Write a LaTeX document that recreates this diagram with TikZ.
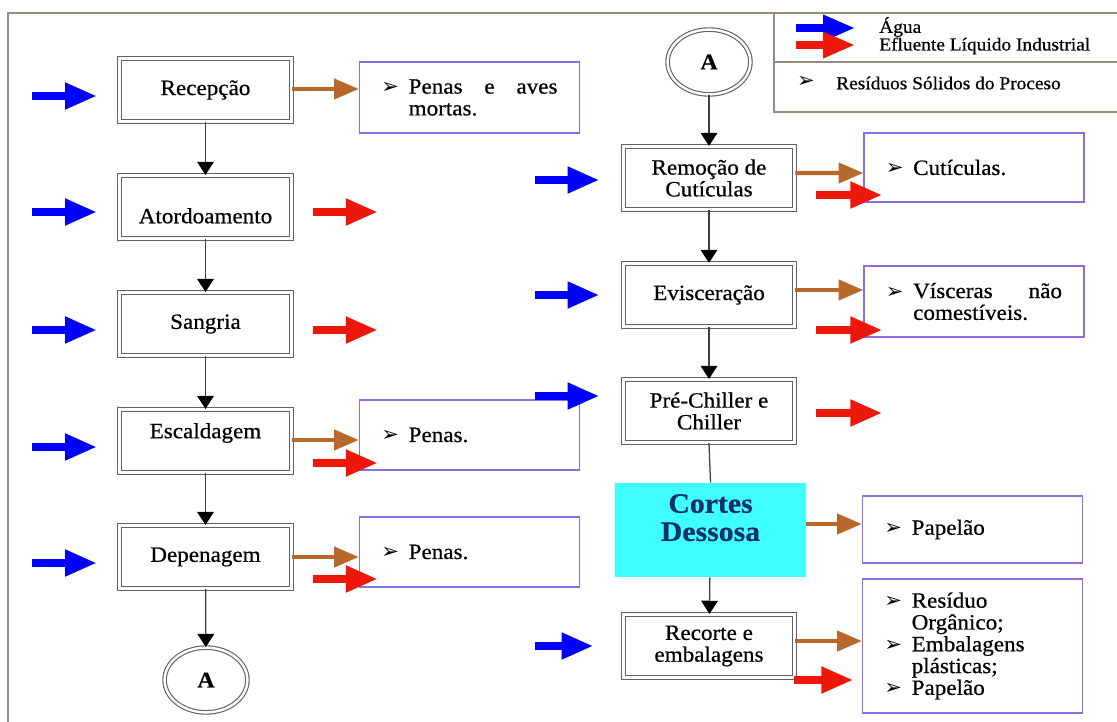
\documentclass[tikz,border=0pt]{standalone}
\usepackage{fontspec}
\setmainfont{Liberation Serif}[FakeStretch=1.06,FakeBold=0.6]
\newfontfamily\simbolos{DejaVu Sans}
\usetikzlibrary{arrows.meta,shapes.geometric,calc}

\definecolor{azulagua}{RGB}{0,0,255}
\definecolor{vermelho}{RGB}{238,24,10}
\definecolor{marrom}{RGB}{184,104,40}
\definecolor{linhacaixa}{RGB}{100,95,112}
\definecolor{lilas}{RGB}{140,110,225}
\definecolor{moldura}{RGB}{150,140,128}
\definecolor{ciano}{RGB}{64,255,255}
\definecolor{marinho}{RGB}{15,50,100}
\definecolor{elo}{RGB}{70,60,50}

\newcommand{\rotulo}{\fontsize{15.5}{15.5}\selectfont}
\newcommand{\legenda}{\fontsize{13}{13}\selectfont}
\newcommand{\marcador}{{\simbolos\fontsize{15}{15}\selectfont ➢}}
\newcommand{\residuo}[1]{\par\hangindent=0.68cm\hangafter=1\hyphenpenalty=10000\tolerance=10000\hbadness=10000\noindent\makebox[0.68cm][l]{\marcador}#1\par}

\tikzset{
    etapa/.style={draw=linhacaixa, double, double distance=0.07cm, line width=0.9pt,
        minimum width=4.29cm, minimum height=1.57cm, inner sep=1pt, align=center, font=\rotulo},
    saida/.style={draw=lilas, line width=0.9pt, inner sep=0pt, font=\rotulo},
    conexao/.style={ellipse, draw=linhacaixa, double, double distance=0.06cm, line width=0.8pt,
        minimum width=2.07cm, minimum height=1.62cm, inner sep=0pt, font=\fontsize{16}{16}\selectfont\bfseries},
    fluxo/.style={draw=elo, line width=0.9pt, -{Triangle[length=0.33cm,width=0.42cm,color=black,fill=black]}},
    agua/.style={draw=azulagua, line width=0.22cm, -{Triangle[length=0.8cm,width=0.62cm]}},
    efluente/.style={draw=vermelho, line width=0.22cm, -{Triangle[length=0.8cm,width=0.62cm]}},
    solido/.style={draw=marrom, line width=0.11cm, -{Triangle[length=0.62cm,width=0.5cm]}}
}

\begin{document}
\begin{tikzpicture}[x=0.025cm,y=-0.025cm]
\useasboundingbox (0,0) rectangle (1117,722);

% moldura e legenda
\draw[moldura, line width=1.4pt] (8,722) -- (8,13) -- (1117,13);
\draw[moldura, line width=1.2pt] (774,13) -- (774,112) -- (1117,112);
\draw[moldura, line width=1.2pt] (774,62) -- (1117,62);
\coordinate (leg-a1) at (796,28);
\coordinate (leg-a2) at (855,28);
\coordinate (leg-e1) at (796,45);
\coordinate (leg-e2) at (855,45);
\draw[agua, line width=0.18cm] (leg-a1) -- (leg-a2);
\draw[efluente, line width=0.18cm] (leg-e1) -- (leg-e2);
\node[anchor=west, font=\legenda, inner sep=0pt] (leg-agua) at (879,27) {Água};
\node[anchor=west, font=\legenda, inner sep=0pt] (leg-efluente) at (879,46) {Efluente Líquido Industrial};
\node[inner sep=0pt] (leg-marca) at (806,82) {\marcador};
\node[anchor=west, font=\legenda, inner sep=0pt] (leg-solido) at (836,83) {Resíduos Sólidos do Proceso};

% etapas - coluna esquerda
\node[etapa] (recepcao) at (205.5,90) {Recepção};
\node[etapa] (atordoamento) at (205.5,207) {\raisebox{-0.22cm}[\height][\depth]{Atordoamento}};
\node[etapa] (sangria) at (205.5,324) {Sangria};
\node[etapa] (escaldagem) at (205.5,441) {\raisebox{0.2cm}[\height][\depth]{Escaldagem}};
\node[etapa] (depenagem) at (205.5,557) {Depenagem};
\node[conexao] (a-fim) at (206,680) {A};

% etapas - coluna direita
\node[conexao] (a-inicio) at (709,62) {A};
\node[etapa] (remocao) at (709,178) {Remoção de\\Cutículas};
\node[etapa] (evisceracao) at (709,295) {Evisceração};
\node[etapa] (prechiller) at (709,411) {Pré-Chiller e\\Chiller};
\node[fill=ciano, minimum width=4.75cm, minimum height=2.35cm, inner sep=0pt,
    font=\fontsize{20}{20}\selectfont\bfseries, text=marinho] (cortes) at (710.5,530)
    {\raisebox{0.22cm}[\height][\depth]{\begin{tabular}{@{}c@{}}Cortes\\Dessosa\end{tabular}}};
\node[etapa] (recorte) at (709,646) {Recorte e\\embalagens};

% residuos solidos
\node[saida, minimum width=5.5cm, minimum height=1.77cm] (pena1) at (469.5,97.5)
    {\parbox{4.4cm}{\residuo{Penas e aves mortas.}}};
\node[saida, minimum width=5.5cm, minimum height=1.75cm] (pena2) at (469.5,435)
    {\parbox{4.4cm}{\residuo{Penas.}}};
\node[saida, minimum width=5.5cm, minimum height=1.75cm] (pena3) at (469.5,552)
    {\parbox{4.4cm}{\residuo{Penas.}}};
\node[saida, minimum width=5.5cm, minimum height=1.72cm] (cuticulas) at (974,167.5)
    {\parbox{4.4cm}{\residuo{Cutículas.}}};
\node[saida, minimum width=5.5cm, minimum height=1.77cm] (visceras) at (974,301.5)
    {\parbox{4.4cm}{\residuo{Vísceras não comestíveis.}}};
\node[saida, minimum width=5.5cm, minimum height=1.67cm] (papelao) at (972.5,529.5)
    {\parbox{4.4cm}{\residuo{Papelão}}};
\node[saida, minimum width=5.5cm, minimum height=3.35cm] (embalagens) at (972.5,646)
    {\parbox{4.4cm}{\residuo{Resíduo Orgânico;}\residuo{Embalagens plásticas;}\residuo{Papelão}}};

% fluxo principal
\draw[fluxo] (recepcao) -- (atordoamento);
\draw[fluxo] (atordoamento) -- (sangria);
\draw[fluxo] (sangria) -- (escaldagem);
\draw[fluxo] (escaldagem) -- (depenagem);
\draw[fluxo] (depenagem) -- (a-fim);
\draw[fluxo] (a-inicio) -- (remocao);
\draw[fluxo] (remocao) -- (evisceracao);
\draw[fluxo] (evisceracao) -- (prechiller);
\draw[draw=elo, line width=0.9pt] (prechiller.south) -- (cortes.north);
\draw[fluxo] (cortes) -- (recorte);

% residuos solidos
\draw[solido] ($(recepcao.east)+(0,-1)$) -- ($(pena1.west)+(0,-8.5)$);
\draw[solido] ($(escaldagem.east)+(0,-1)$) -- ($(pena2.west)+(0,5)$);
\draw[solido] (depenagem.east) -- ($(pena3.west)+(0,5)$);
\draw[solido] ($(remocao.east)+(0,-5)$) -- ($(cuticulas.west)+(0,5.5)$);
\draw[solido] ($(evisceracao.east)+(0,-5)$) -- ($(visceras.west)+(0,-11.5)$);
\draw[solido] ($(cortes.east)+(0,-6)$) -- ($(papelao.west)+(0,-5.5)$);
\draw[solido] ($(recorte.east)+(0,-5)$) -- ($(embalagens.west)+(0,-5)$);

% entrada de agua
\draw[agua] ($(recepcao.west)+(-87,6)$) -- ($(recepcao.west)+(-22,6)$);
\draw[agua] ($(atordoamento.west)+(-87,5)$) -- ($(atordoamento.west)+(-22,5)$);
\draw[agua] ($(sangria.west)+(-87,6)$) -- ($(sangria.west)+(-22,6)$);
\draw[agua] ($(escaldagem.west)+(-87,6)$) -- ($(escaldagem.west)+(-22,6)$);
\draw[agua] ($(depenagem.west)+(-87,6)$) -- ($(depenagem.west)+(-22,6)$);
\draw[agua] ($(remocao.west)+(-88,2)$) -- ($(remocao.west)+(-23,2)$);
\draw[agua] ($(evisceracao.west)+(-88,0)$) -- ($(evisceracao.west)+(-23,0)$);
\draw[agua] ($(prechiller.west)+(-88,-15)$) -- ($(prechiller.west)+(-23,-15)$);
\draw[agua] ($(recorte.west)+(-88,0)$) -- ($(recorte.west)+(-29,0)$);

% efluente liquido
\draw[efluente] ($(atordoamento.east)+(21,5)$) -- ($(atordoamento.east)+(86,5)$);
\draw[efluente] ($(sangria.east)+(21,6)$) -- ($(sangria.east)+(86,6)$);
\draw[efluente] ($(escaldagem.east)+(21,22)$) -- ($(escaldagem.east)+(86,22)$);
\draw[efluente] ($(depenagem.east)+(21,22)$) -- ($(depenagem.east)+(86,22)$);
\draw[efluente] ($(remocao.east)+(21,17)$) -- ($(remocao.east)+(87,17)$);
\draw[efluente] ($(evisceracao.east)+(21,35)$) -- ($(evisceracao.east)+(87,35)$);
\draw[efluente] ($(prechiller.east)+(21,2)$) -- ($(prechiller.east)+(87,2)$);
\draw[efluente] ($(recorte.east)+(-1,34)$) -- ($(recorte.east)+(58,34)$);
\end{tikzpicture}
\end{document}
